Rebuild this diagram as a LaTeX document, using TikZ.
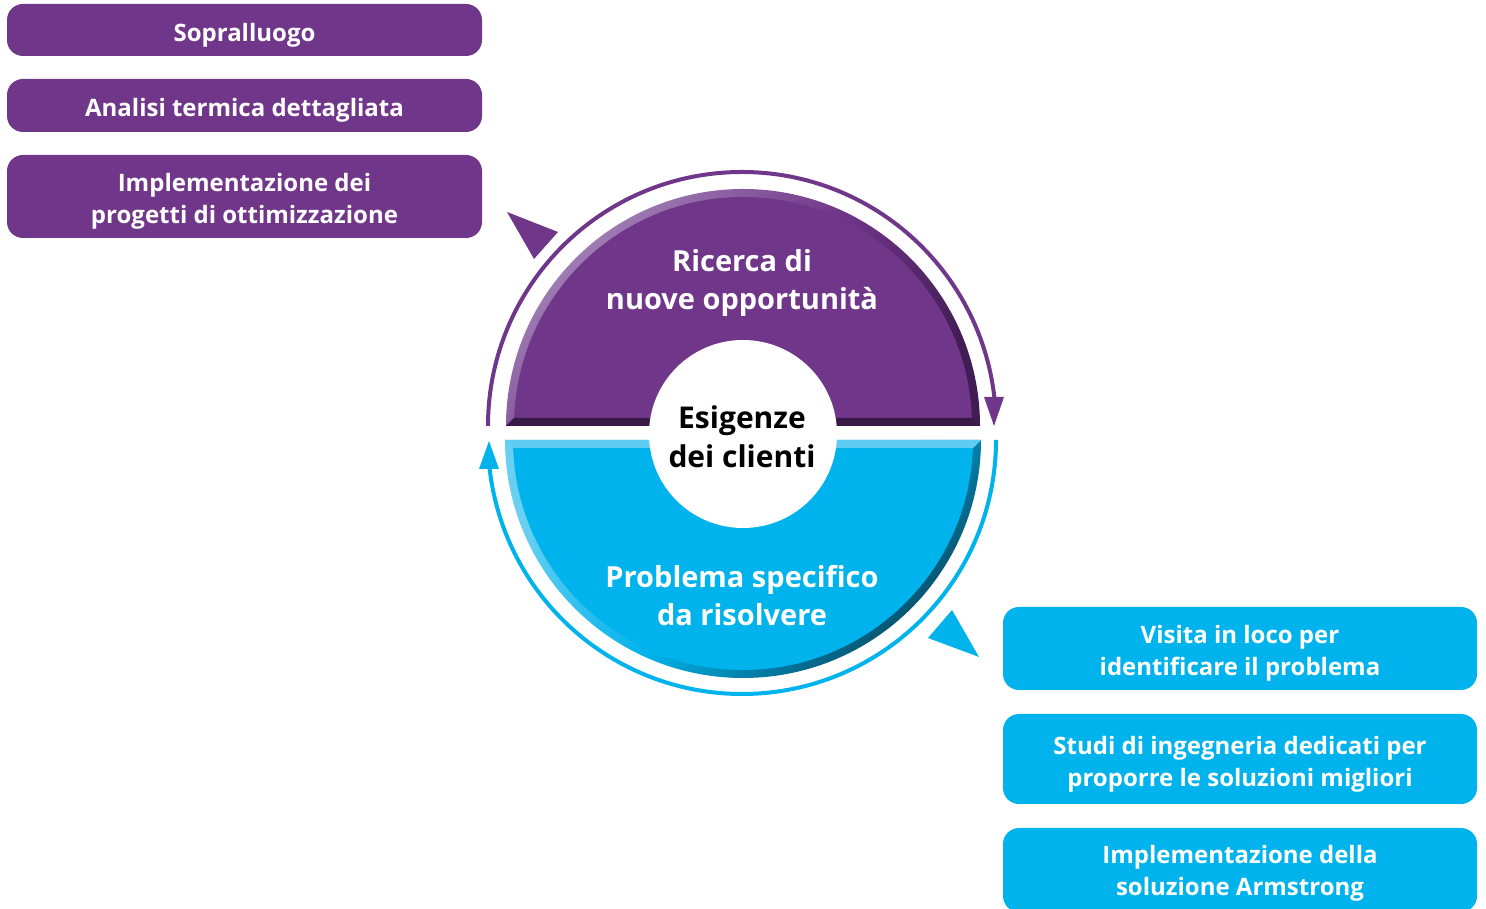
\documentclass[tikz,border=0pt]{standalone}
\usepackage{fontspec}
\setmainfont{Open Sans}
\definecolor{armpurple}{RGB}{112,54,137}
\definecolor{armblue}{RGB}{0,179,236}
\definecolor{pband}{RGB}{56,24,70}
\definecolor{plight}{RGB}{165,135,185}
\definecolor{pdark}{RGB}{66,28,84}
\definecolor{blight}{RGB}{105,208,242}
\definecolor{bdark}{RGB}{8,72,96}
\definecolor{btop}{RGB}{95,205,242}
\begin{document}
\begin{tikzpicture}[x=1pt,y=1pt,
  pbox/.style={draw=none, fill=armpurple, rounded corners=16pt,
    minimum width=475pt, inner sep=0pt},
  bbox/.style={pbox, fill=armblue, minimum width=474pt},
  boxtext/.style={text=white, font=\fontsize{24}{32}\selectfont\bfseries, align=center, inner sep=0pt},
  ctext/.style={text=white, font=\fontsize{29}{38}\selectfont\bfseries, align=center, inner sep=0pt},
  cyclearc/.style={line width=4pt},
]
\useasboundingbox (0,0) rectangle (1486,909);

% left boxes
\node[pbox, minimum height=52pt] (p1) at (244.5,879) {};
\node[pbox, minimum height=53pt] (p2) at (244.5,803.5) {};
\node[pbox, minimum height=83pt] (p3) at (244.5,712.5) {};
\node[boxtext] (p1t) at ([yshift=-5pt]p1.center) {Sopralluogo};
\node[boxtext] (p2t) at ([yshift=-5pt]p2.center) {Analisi termica dettagliata};
\node[boxtext] (p3t) at ([yshift=-5pt]p3.center) {Implementazione dei\\progetti di ottimizzazione};

% right boxes
\node[bbox, minimum height=83pt] (b1) at (1240,260.5) {};
\node[bbox, minimum height=90pt] (b2) at (1240,150) {};
\node[bbox, minimum height=84pt] (b3) at (1240,39) {};
\node[boxtext] (b1t) at ([yshift=-5pt]b1.center) {Visita in loco per\\identificare il problema};
\node[boxtext] (b2t) at ([yshift=-5pt]b2.center) {Studi di ingegneria dedicati per\\proporre le soluzioni migliori};
\node[boxtext] (b3t) at ([yshift=-3pt]b3.center) {Implementazione della\\soluzione Armstrong};

% purple half disc
\shade[top color=plight, bottom color=pdark, middle color=armpurple, shading angle=45]
  (980,483) arc[start angle=0,end angle=180,radius=237] -- cycle;
\fill[armpurple] (743,483) ++(2:229) arc[start angle=2,end angle=178,radius=229] -- cycle;
\fill[pband] (506,483) -- (980,483) -- (972,491) -- (514,491) -- cycle;

% blue half disc
\shade[top color=blight, bottom color=bdark, middle color=armblue, shading angle=45]
  (981,469) arc[start angle=0,end angle=-180,radius=238] -- cycle;
\fill[armblue] (743,469) ++(-2:230) arc[start angle=-2,end angle=-178,radius=230] -- cycle;
\fill[btop] (505,469) -- (981,469) -- (973,461) -- (513,461) -- cycle;

% centre
\fill[white] (743,475) circle[radius=94];

\node[ctext] (top) at (742,626) {Ricerca di\\nuove opportunità};
\node[ctext, text=black, font=\fontsize{30}{39}\selectfont\bfseries] (mid) at (742,472) {Esigenze\\dei clienti};
\node[ctext] (bot) at (742,313) {Problema specifico\\da risolvere};

% cycle arrows
\draw[armpurple, cyclearc] (488,483) arc[start angle=180,end angle=6.5,radius=254];
\fill[armpurple] (984,512) -- (1004,512) -- (994,483) -- cycle;
\draw[armblue, cyclearc] (996,469) arc[start angle=0,end angle=-173.5,radius=254];
\fill[armblue] (479,440) -- (499,440) -- (489,468) -- cycle;

% pointer triangles
\fill[armpurple] (507,697) -- (558,677) -- (534,650) -- cycle;
\fill[armblue] (952,299) -- (928,271) -- (979,252) -- cycle;
\end{tikzpicture}
\end{document}
